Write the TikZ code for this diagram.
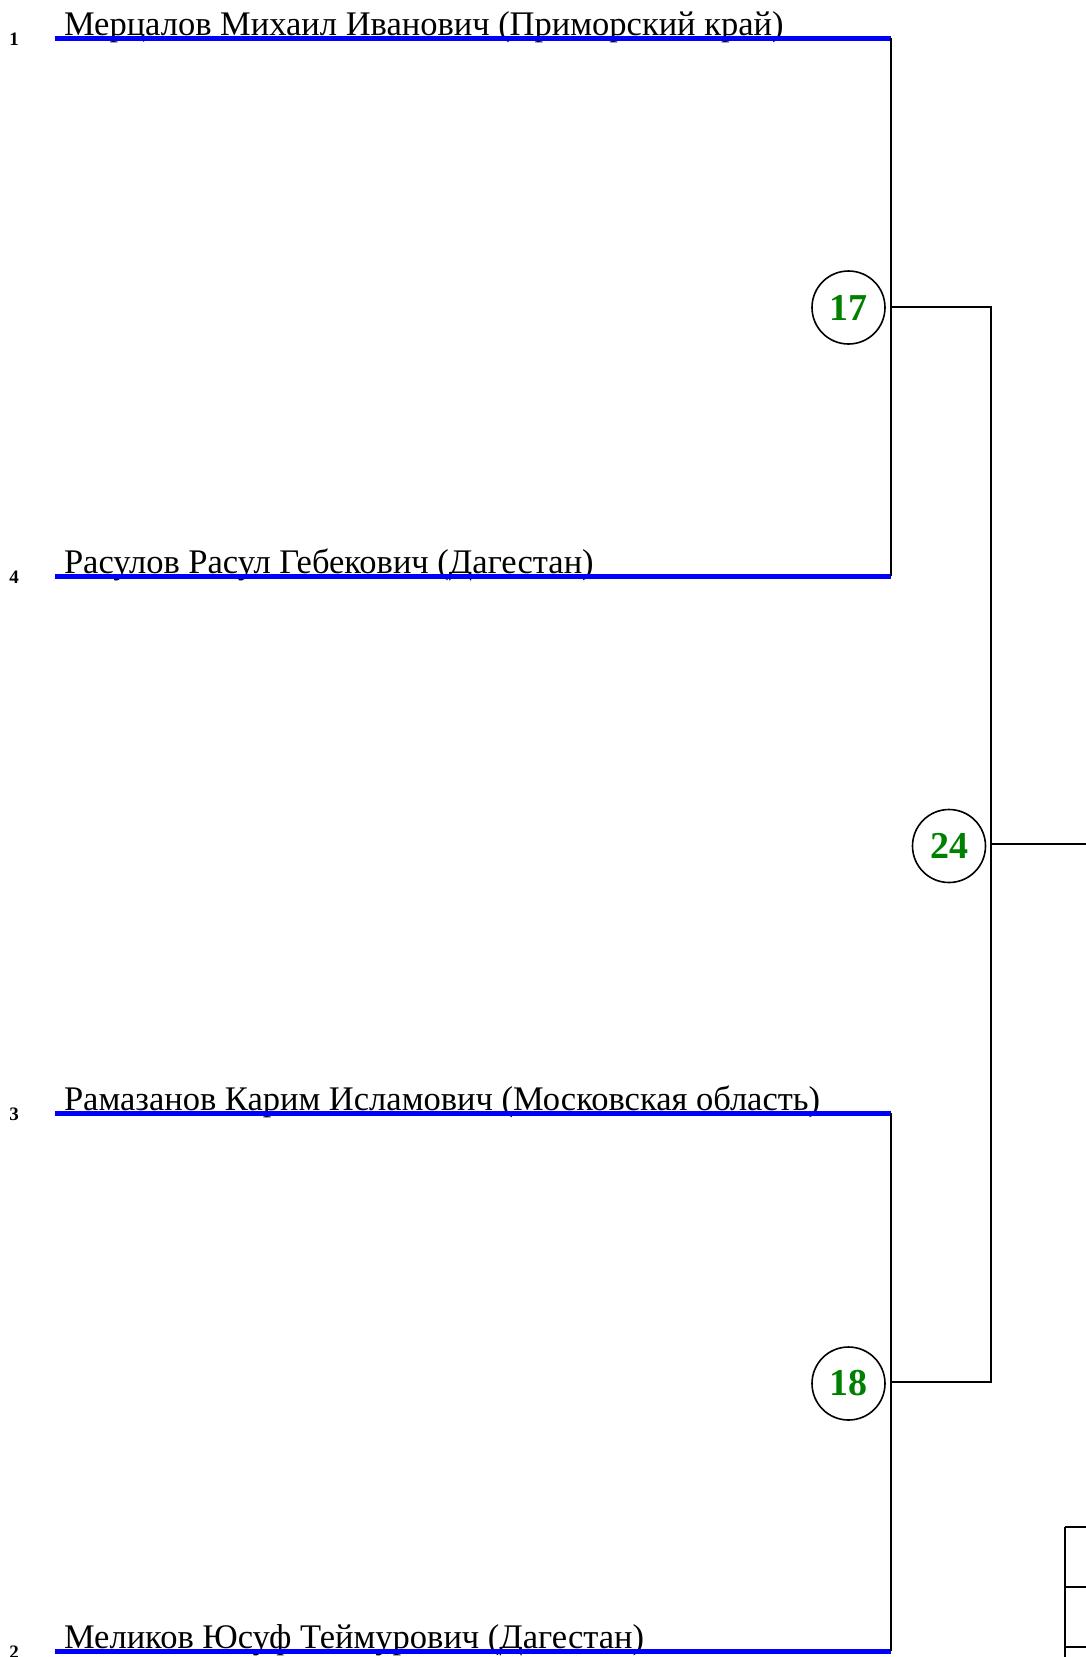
\documentclass[tikz,border=0pt]{standalone}
\usepackage{fontspec}
\setmainfont{Liberation Serif}
\usepackage{xcolor}
\usetikzlibrary{positioning}
\definecolor{matchgreen}{RGB}{0,128,0}

\begin{document}
\begin{tikzpicture}[x=1pt,y=-1pt,line width=2pt]
      \tikzstyle{player}=[anchor=base west,inner sep=0pt,font=\fontsize{34.5}{38}\selectfont]
      \tikzstyle{seed}=[anchor=base,inner sep=0pt,font=\fontsize{19}{20}\selectfont\bfseries]
      \tikzstyle{match}=[circle,draw=black,line width=1.6pt,fill=white,minimum size=73pt,inner sep=0pt,text=matchgreen,font=\fontsize{38}{40}\selectfont\bfseries]
      \tikzstyle{bar}=[draw=blue,line width=5pt]

      \useasboundingbox (0,0) rectangle (1086,1657);

      % draw order: 1, 4, 3, 2
      \coordinate (w1) at (55,38);
      \coordinate (e1) at (891,38);
      \coordinate (w4) at (55,576);
      \coordinate (e4) at (891,576);
      \coordinate (w3) at (55,1113);
      \coordinate (e3) at (891,1113);
      \coordinate (w2) at (55,1651);
      \coordinate (e2) at (891,1651);

      \node[seed]   (s1) at (14,45)   {1};
      \node[seed]   (s4) at (14,583)  {4};
      \node[seed]   (s3) at (14,1120) {3};
      \node[seed]   (s2) at (14,1658) {2};

      \node[player] (n1) at (63,35.5)   {Мерцалов Михаил Иванович (Приморский край)};
      \node[player] (n4) at (63,573.5)  {Расулов Расул Гебекович (Дагестан)};
      \node[player] (n3) at (63,1110.5) {Рамазанов Карим Исламович (Московская область)};
      \node[player] (n2) at (63,1648.5) {Меликов Юсуф Теймурович (Дагестан)};

      \path[bar] (w1) -- (e1) (w4) -- (e4) (w3) -- (e3) (w2) -- (e2);

      % first round
      \draw (e1) -- (e4);
      \draw (e3) -- (e2);
      \coordinate (j17) at (891,306.5);
      \coordinate (j18) at (891,1382);
      \coordinate (k17) at (991,306.5);
      \coordinate (k18) at (991,1382);
      \coordinate (k24) at (991,844);
      \coordinate (out) at (1090,844);
      \draw (j17) -- (k17) -- (k18) -- (j18);
      \draw (k24) -- (out);

      \node[match] (m17) at (848.5,307.5) {17};
      \node[match] (m18) at (848.5,1383.5) {18};
      \node[match] (m24) at (949,846) {24};

      % corner of the table below
      \draw (1065,1526.5) -- (1065,1662);
      \foreach \ty in {1526.5,1586.5,1646.5}
        \draw (1065,\ty) -- (1090,\ty);
\end{tikzpicture}
\end{document}
